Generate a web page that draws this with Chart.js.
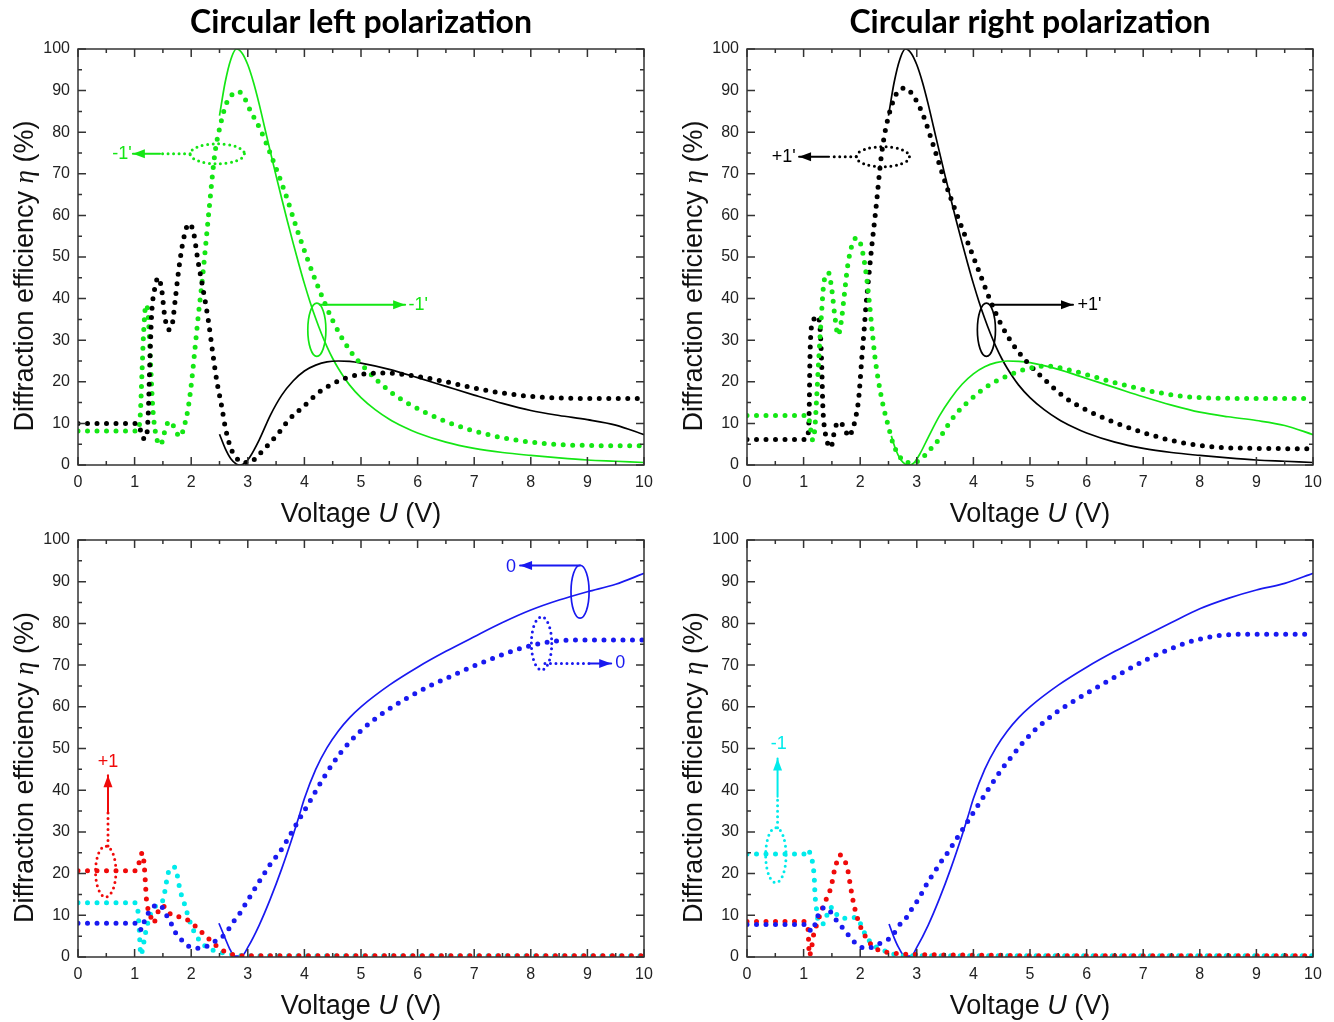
<!DOCTYPE html>
<html>
<head>
<meta charset="utf-8">
<script src="https://cdn.jsdelivr.net/npm/chart.js@4.4.1/dist/chart.umd.min.js"></script>
<style>
body { margin: 0; background: #fff; }
#wrap { position: relative; width: 1334px; height: 1022px; }
canvas { position: absolute; }
</style>
</head>
<body>
<div id="wrap">
  <canvas id="tl" width="667" height="540" style="left:0;top:0"></canvas>
  <canvas id="tr" width="667" height="540" style="left:667px;top:0"></canvas>
  <canvas id="bl" width="667" height="500" style="left:0;top:522px"></canvas>
  <canvas id="br" width="667" height="500" style="left:667px;top:522px"></canvas>
</div>
<script>
// ---- data, [voltage, efficiency %] ----
const tlBlackDot = [[0,10],[1.0,10],[1.08,9.5],[1.14,6.5],[1.2,6.3],[1.24,12],[1.27,25],[1.3,36],[1.35,42],[1.42,45],[1.48,42],[1.53,36],[1.6,32.5],[1.66,33.5],[1.72,40],[1.78,47],[1.86,54],[1.96,58],[2.04,56],[2.12,49],[2.2,43],[2.3,35],[2.38,27],[2.45,20.4],[2.54,14],[2.6,9.2],[2.69,4.4],[2.8,1.7],[2.92,0.6],[3.04,0.6],[3.16,2],[3.33,4.4],[3.54,7.6],[3.72,10.8],[3.98,14],[4.24,17.3],[4.5,19.5],[4.75,21],[5.0,21.8],[5.3,22.1],[5.6,22],[6,21.3],[6.5,20],[7,18.5],[7.5,17.3],[8,16.5],[8.5,16.1],[9,16],[10,16]];
const tlBlackSolid = [[2.5,7.4],[2.6,4],[2.7,1.5],[2.8,0.2],[2.86,0],[2.95,0.5],[3.04,2],[3.2,6],[3.4,12],[3.6,16.8],[3.8,20.2],[4.0,22.6],[4.2,24],[4.4,24.8],[4.6,25],[4.8,24.9],[5,24.5],[5.5,23],[6,21],[6.5,18.9],[7,16.8],[7.5,14.8],[8,13.1],[8.5,11.9],[9,10.9],[9.5,9.6],[10,7.3]];
const tlGreenSolid = [[2.5,84],[2.6,92],[2.7,97.5],[2.8,100],[2.9,99],[3.0,96.2],[3.1,92],[3.2,86.8],[3.3,81],[3.4,75.2],[3.5,69.5],[3.6,64],[3.7,58.6],[3.8,53.4],[3.9,48.4],[4.0,43.6],[4.1,39.2],[4.2,35.2],[4.3,31.6],[4.4,28.4],[4.5,25.6],[4.6,23.2],[4.8,19.2],[5.0,16.2],[5.25,13.3],[5.5,11],[5.75,9.2],[6,7.7],[6.5,5.5],[7,4],[7.5,3],[8,2.3],[8.5,1.7],[9,1.2],[9.5,0.9],[10,0.6]];
const tlGreenDot = [[0,8.2],[1.05,8.2],[1.1,12],[1.13,22],[1.16,32],[1.2,38.5],[1.24,36],[1.28,25],[1.32,14],[1.38,7],[1.46,4.8],[1.52,7.5],[1.58,10],[1.64,10.5],[1.7,9],[1.8,6.8],[1.89,10],[1.95,14],[2.01,20.4],[2.07,28.4],[2.13,36.5],[2.19,43.7],[2.25,52],[2.31,60.6],[2.42,75],[2.52,82],[2.61,86.5],[2.72,89],[2.83,89.8],[2.95,88],[3.05,85],[3.21,81],[3.44,73.4],[3.66,65.4],[3.89,55.8],[4.19,44.6],[4.49,35],[4.79,27.8],[5.09,23],[5.54,17.4],[6.14,12.6],[6.89,8.6],[7.65,6.2],[8.4,5],[9,4.7],[10,4.6]];

const trBlackDot = [[0,6.1],[1.03,6.1],[1.08,7.5],[1.1,14],[1.11,24],[1.13,32],[1.18,35],[1.24,35.8],[1.29,33],[1.32,24],[1.34,14],[1.38,8],[1.43,5],[1.48,4.2],[1.55,8.4],[1.61,10.4],[1.69,9.6],[1.75,8],[1.79,6.8],[1.85,8],[1.91,10.8],[1.97,15.6],[2.0,20.4],[2.03,26],[2.07,32.5],[2.1,38],[2.14,43.7],[2.2,52],[2.27,60.6],[2.38,75],[2.5,83.8],[2.68,90],[2.8,90.6],[2.95,88.5],[3.1,84.5],[3.3,76.5],[3.5,68],[3.7,60.5],[3.9,53.5],[4.1,46.5],[4.3,39.5],[4.5,33.5],[4.75,28],[5.0,24],[5.3,20],[5.6,16.4],[6.0,13.2],[6.5,10.2],[7.0,7.8],[7.6,5.6],[8.3,4.3],[9,4],[10,3.9]];
const trBlackSolid = [[2.5,84],[2.6,92],[2.7,97.5],[2.8,100],[2.9,99],[3.0,96.2],[3.1,92],[3.2,86.8],[3.3,81],[3.4,75.2],[3.5,69.5],[3.6,64],[3.7,58.6],[3.8,53.4],[3.9,48.4],[4.0,43.6],[4.1,39.2],[4.2,35.2],[4.3,31.6],[4.4,28.4],[4.5,25.6],[4.6,23.2],[4.8,19.2],[5.0,16.2],[5.25,13.3],[5.5,11],[5.75,9.2],[6,7.7],[6.5,5.5],[7,4],[7.5,3],[8,2.3],[8.5,1.7],[9,1.2],[9.5,0.9],[10,0.6]];
const trGreenSolid = [[2.55,7],[2.63,3.6],[2.72,1.2],[2.8,0.2],[2.88,0],[2.95,0.5],[3.06,2.8],[3.2,6.6],[3.4,11.8],[3.6,16],[3.8,19.4],[4.0,21.9],[4.2,23.6],[4.4,24.6],[4.6,25],[4.8,24.9],[5,24.6],[5.5,23],[6,20.8],[6.5,18.6],[7,16.4],[7.5,14.4],[8,12.7],[8.5,11.6],[9,10.7],[9.5,9.5],[10,7.3]];
const trGreenDot = [[0,11.9],[1.08,11.9],[1.12,9],[1.16,6],[1.2,9],[1.23,16],[1.27,26],[1.31,35],[1.36,44],[1.44,46.2],[1.5,42],[1.55,36],[1.61,31.2],[1.66,34],[1.72,41],[1.78,48],[1.87,53.5],[1.95,54.6],[2.03,52],[2.11,45.4],[2.17,38],[2.21,32.5],[2.26,26],[2.32,20.4],[2.41,14],[2.5,9.2],[2.58,5.2],[2.7,2],[2.82,0.6],[2.94,0.6],[3.06,1.2],[3.2,3.2],[3.38,6],[3.53,9.2],[3.7,12.4],[3.94,15.6],[4.23,18.8],[4.6,21.4],[5.0,23.3],[5.3,23.8],[5.7,22.8],[6.5,19.8],[7.27,17.4],[8,16.2],[9,16],[10,16]];

const blBlueSolid = [[2.49,8.1],[2.6,4.5],[2.69,1.7],[2.77,0.2],[2.89,0.2],[3.0,2.3],[3.2,7.6],[3.4,14],[3.6,21.2],[3.8,29.2],[3.9,33.5],[4.0,38],[4.2,45],[4.4,50.2],[4.6,54.2],[4.8,57.4],[5.0,60],[5.5,65.2],[6.0,69.5],[6.5,73.3],[7.0,76.8],[7.5,80.2],[8.0,83.2],[8.5,85.6],[9.0,87.6],[9.5,89.4],[10,92]];
const blBlueDot = [[0,8.1],[1.05,8.1],[1.12,6.5],[1.18,8.9],[1.24,10.5],[1.33,12.1],[1.45,12.5],[1.54,10.5],[1.63,8.5],[1.71,6.1],[1.83,4.1],[1.95,2.6],[2.1,2.1],[2.24,2.3],[2.36,3.3],[2.48,4.2],[2.6,5.5],[2.69,7.3],[2.77,8.9],[2.86,10.5],[2.95,12.5],[3.04,14.5],[3.13,16.5],[3.22,18.5],[3.3,20.2],[3.39,22.1],[3.48,23.7],[3.57,25.3],[3.65,27],[3.75,29.3],[3.9,32.8],[4.1,37.4],[4.34,43],[4.64,49],[5.0,54.3],[5.4,58.6],[5.8,62],[6.2,64.9],[6.6,67.4],[7.0,69.8],[7.4,72],[7.8,73.9],[8.1,75],[8.4,75.7],[8.8,76],[10,76]];
const blRedDot = [[0,20.7],[1.0,20.7],[1.06,21.5],[1.1,24],[1.14,25],[1.17,22],[1.19,18],[1.21,13.7],[1.27,10.5],[1.33,8.1],[1.42,11],[1.5,12.3],[1.57,11.2],[1.65,10.1],[1.83,9.5],[1.98,8.5],[2.14,6.5],[2.33,4.1],[2.54,1.7],[2.77,0.5],[3,0.3],[10,0.3]];
const blCyanDot = [[0,13],[1.0,13],[1.05,12],[1.08,7],[1.11,0.5],[1.15,2.5],[1.18,4.9],[1.24,8.5],[1.3,10.9],[1.4,12.5],[1.49,13.3],[1.54,16.1],[1.58,19.3],[1.63,21.3],[1.71,21.5],[1.77,18.5],[1.8,16.1],[1.86,13.7],[1.92,10.9],[2.01,7.3],[2.1,4.9],[2.19,3.3],[2.3,2.1],[2.48,1.3],[2.66,0.7],[3,0.3],[10,0.3]];

const brBlueSolid = [[2.51,7.9],[2.6,4.6],[2.67,2.5],[2.79,0.2],[2.9,0.2],[3.0,2.3],[3.2,7.6],[3.4,14],[3.6,21.2],[3.8,29.2],[3.9,33.5],[4.0,38],[4.2,45],[4.4,50.2],[4.6,54.2],[4.8,57.4],[5.0,60],[5.5,65.2],[6.0,69.5],[6.5,73.3],[7.0,76.8],[7.5,80.2],[8.0,83.5],[8.5,86],[9.0,88],[9.5,89.6],[10,92]];
const brBlueDot = [[0,7.8],[1.05,7.8],[1.14,6.1],[1.26,10.1],[1.37,11.9],[1.47,10.9],[1.55,9.3],[1.67,7.3],[1.79,5.3],[1.91,3.4],[2.03,2.3],[2.14,2.1],[2.29,2.9],[2.41,3.7],[2.56,4.9],[2.67,7.3],[2.82,9.5],[2.91,11.5],[3.02,13.7],[3.12,16.1],[3.2,18.1],[3.32,20.5],[3.41,22.5],[3.5,24.1],[3.7,28.3],[3.9,32.5],[4.1,36.8],[4.3,41],[4.5,45],[4.7,48.5],[4.9,51.8],[5.1,54.6],[5.5,59],[5.9,62.4],[6.3,65.6],[6.7,68.7],[7.1,71.6],[7.5,74],[7.9,75.9],[8.3,77],[8.7,77.4],[10,77.4]];
const brRedDot = [[0,8.5],[1.0,8.5],[1.05,8],[1.08,6.5],[1.09,3.3],[1.1,0.3],[1.14,2.1],[1.17,4.9],[1.23,7.7],[1.32,11.3],[1.38,13.3],[1.45,15.3],[1.5,17.7],[1.54,20.5],[1.58,22.5],[1.64,24.5],[1.72,23.3],[1.78,20.9],[1.82,17.7],[1.86,14.5],[1.91,11.3],[1.97,8.5],[2.03,6.5],[2.11,4.5],[2.2,2.9],[2.35,1.5],[2.54,1],[2.77,0.7],[3.5,0.5],[4.5,0.4],[5,0.3],[10,0.3]];
const brCyanDot = [[0,24.7],[1.0,24.7],[1.08,25.8],[1.13,24],[1.17,21.7],[1.19,18.5],[1.2,15.3],[1.23,11.3],[1.26,8.5],[1.32,7.9],[1.38,8.5],[1.44,11.3],[1.51,11.9],[1.58,10.3],[1.67,9.3],[1.76,9.3],[1.85,9.5],[1.94,9.3],[2.0,8.1],[2.05,6.5],[2.11,4.9],[2.2,3.3],[2.32,2.1],[2.43,1.5],[2.58,0.7],[2.75,0.3],[10,0.3]];

const xTicks = [0, 10, 1];      // min, max, step
const yTicks = [0, 100, 10];

const GREEN = 'rgb(20,230,20)', BLACK = '#000', BLUE = 'rgb(25,25,240)', RED = 'rgb(240,10,10)', CYAN = 'rgb(0,235,235)';

// annotation callouts, in data units
const tlNotes = {
  ellipses: [{x: 2.46, y: 74.8, rx: 0.48, ry: 2.4, c: GREEN, dot: true}, {x: 4.22, y: 32.5, rx: 0.16, ry: 6.4, c: GREEN}],
  arrows: [{from: [1.98, 74.8], mid: [1.45, 74.8], to: [0.97, 74.8], c: GREEN}, {from: [4.27, 38.5], to: [5.78, 38.5], c: GREEN}],
  labels: [{x: 0.95, y: 74.8, t: "-1'", c: GREEN, al: 'right'}, {x: 5.84, y: 38.5, t: "-1'", c: GREEN, al: 'left'}]
};
const trNotes = {
  ellipses: [{x: 2.4, y: 74.1, rx: 0.47, ry: 2.4, c: BLACK, dot: true}, {x: 4.23, y: 32.5, rx: 0.16, ry: 6.4, c: BLACK}],
  arrows: [{from: [1.93, 74.1], mid: [1.45, 74.1], to: [0.92, 74.1], c: BLACK}, {from: [4.3, 38.5], to: [5.76, 38.5], c: BLACK}],
  labels: [{x: 0.86, y: 74.1, t: "+1'", c: BLACK, al: 'right'}, {x: 5.84, y: 38.5, t: "+1'", c: BLACK, al: 'left'}]
};
const blNotes = {
  ellipses: [{x: 8.87, y: 87.6, rx: 0.16, ry: 6.35, c: BLUE}, {x: 8.19, y: 75.2, rx: 0.18, ry: 6.35, c: BLUE, dot: true},
             {x: 0.49, y: 20.5, rx: 0.18, ry: 6.1, c: RED, dot: true}],
  arrows: [{from: [8.87, 93.9], to: [7.81, 93.9], c: BLUE}, {from: [8.25, 70.4], mid: [9.05, 70.4], to: [9.42, 70.4], c: BLUE},
           {from: [0.53, 26.6], mid: [0.53, 34.8], to: [0.53, 43.6], c: RED}],
  labels: [{x: 7.74, y: 93.6, t: '0', c: BLUE, al: 'right'}, {x: 9.49, y: 70.4, t: '0', c: BLUE, al: 'left'},
           {x: 0.53, y: 46.8, t: '+1', c: RED, al: 'center'}]
};
const brNotes = {
  ellipses: [{x: 0.51, y: 24.4, rx: 0.18, ry: 6.6, c: CYAN, dot: true}],
  arrows: [{from: [0.54, 31], mid: [0.54, 38.4], to: [0.54, 47.6], c: CYAN}],
  labels: [{x: 0.56, y: 51, t: '-1', c: CYAN, al: 'center'}]
};

const SANS = '"Liberation Sans", Arial, sans-serif';

function dotted(d, c) {
  return { data: d.map(p => ({x: p[0], y: p[1]})), borderColor: c, borderWidth: 5, borderDash: [0, 9.5],
           borderCapStyle: 'round', pointRadius: 0, cubicInterpolationMode: 'monotone', fill: false };
}
function solid(d, c) {
  return { data: d.map(p => ({x: p[0], y: p[1]})), borderColor: c, borderWidth: 1.7,
           pointRadius: 0, cubicInterpolationMode: 'monotone', fill: false };
}

function richText(ctx, parts, cx, y, size) {
  const font = p => (p[1] ? 'italic ' : '') + size + 'px ' + (p[2] || SANS);
  let w = 0;
  parts.forEach(p => { ctx.font = font(p); w += ctx.measureText(p[0]).width; });
  let x = cx - w / 2;
  ctx.textAlign = 'left';
  ctx.textBaseline = 'alphabetic';
  parts.forEach(p => { ctx.font = font(p); ctx.fillText(p[0], x, y); x += ctx.measureText(p[0]).width; });
}

function arrowHead(ctx, x1, y1, x2, y2) {
  const ang = Math.atan2(y2 - y1, x2 - x1), L = 12, W = 4.5;
  ctx.beginPath();
  ctx.moveTo(x2, y2);
  ctx.lineTo(x2 - L * Math.cos(ang) + W * Math.sin(ang), y2 - L * Math.sin(ang) - W * Math.cos(ang));
  ctx.lineTo(x2 - L * Math.cos(ang) - W * Math.sin(ang), y2 - L * Math.sin(ang) + W * Math.cos(ang));
  ctx.closePath();
  ctx.fill();
}

const decor = {
  id: 'decor',
  afterDatasetsDraw(chart, args, o) {
    const ctx = chart.ctx, a = chart.chartArea, sx = chart.scales.x, sy = chart.scales.y;
    const X = v => sx.getPixelForValue(v), Y = v => sy.getPixelForValue(v);
    ctx.save();

    // callouts
    const n = o.notes || {};
    (n.ellipses || []).forEach(e => {
      ctx.strokeStyle = e.c;
      ctx.lineCap = 'round';
      if (e.dot) { ctx.lineWidth = 3; ctx.setLineDash([0, 5.5]); } else { ctx.lineWidth = 1.7; ctx.setLineDash([]); }
      ctx.beginPath();
      ctx.ellipse(X(e.x), Y(e.y), Math.abs(X(e.x + e.rx) - X(e.x)), Math.abs(Y(e.y + e.ry) - Y(e.y)), 0, 0, Math.PI * 2);
      ctx.stroke();
    });
    (n.arrows || []).forEach(r => {
      ctx.strokeStyle = r.c; ctx.fillStyle = r.c; ctx.lineCap = 'round';
      let start = r.from;
      if (r.mid) {
        ctx.lineWidth = 3; ctx.setLineDash([0, 5.5]);
        ctx.beginPath(); ctx.moveTo(X(r.from[0]), Y(r.from[1])); ctx.lineTo(X(r.mid[0]), Y(r.mid[1])); ctx.stroke();
        start = r.mid;
      }
      ctx.lineWidth = 2; ctx.setLineDash([]);
      ctx.beginPath(); ctx.moveTo(X(start[0]), Y(start[1])); ctx.lineTo(X(r.to[0]), Y(r.to[1])); ctx.stroke();
      arrowHead(ctx, X(start[0]), Y(start[1]), X(r.to[0]), Y(r.to[1]));
    });
    ctx.setLineDash([]);
    (n.labels || []).forEach(l => {
      ctx.fillStyle = l.c; ctx.font = '18px ' + SANS;
      ctx.textAlign = l.al; ctx.textBaseline = 'middle';
      ctx.fillText(l.t, X(l.x), Y(l.y));
    });

    // frame and inward ticks on all sides
    ctx.strokeStyle = '#333'; ctx.lineWidth = 1.5; ctx.lineCap = 'butt';
    ctx.strokeRect(a.left, a.top, a.right - a.left, a.bottom - a.top);
    ctx.beginPath();
    for (let v = xTicks[0]; v <= xTicks[1] + 1e-9; v += xTicks[2] / 2) {
      const p = X(v), l = Math.abs(v % xTicks[2]) < 1e-6 ? 8 : 4;
      ctx.moveTo(p, a.bottom); ctx.lineTo(p, a.bottom - l);
      ctx.moveTo(p, a.top); ctx.lineTo(p, a.top + l);
    }
    for (let v = yTicks[0]; v <= yTicks[1] + 1e-9; v += yTicks[2] / 2) {
      const p = Y(v), l = Math.abs(v % yTicks[2]) < 1e-6 ? 8 : 4;
      ctx.moveTo(a.left, p); ctx.lineTo(a.left + l, p);
      ctx.moveTo(a.right, p); ctx.lineTo(a.right - l, p);
    }
    ctx.stroke();

    // axis titles
    ctx.fillStyle = '#111';
    richText(ctx, [['Voltage '], ['U', true], [' (V)']], (a.left + a.right) / 2, a.bottom + 57, 27);
    ctx.save();
    ctx.translate(a.left - 45, (a.top + a.bottom) / 2 + 19);
    ctx.rotate(-Math.PI / 2);
    richText(ctx, [['Diffraction efficiency '], ['η', true, '"Liberation Serif", serif'], [' (%)']], 0, 0, 27);
    ctx.restore();

    // panel title
    if (o.title) {
      ctx.font = 'bold 30px Lato, "Open Sans", sans-serif';
      const s = 30 * 342 / ctx.measureText('Circular left polarization').width;
      ctx.font = 'bold ' + s.toFixed(1) + 'px Lato, "Open Sans", sans-serif';
      ctx.fillStyle = '#000'; ctx.textAlign = 'center'; ctx.textBaseline = 'alphabetic';
      ctx.fillText(o.title, (a.left + a.right) / 2, 33);
    }
    ctx.restore();
  }
};

function makeChart(id, datasets, box, title, notes) {
  const cv = document.getElementById(id);
  new Chart(cv, {
    type: 'line',
    data: { datasets: datasets },
    options: {
      responsive: false, animation: false, devicePixelRatio: 1,
      layout: { padding: { left: 0, right: cv.width - box.right, top: box.top, bottom: 0 } },
      plugins: { legend: { display: false }, tooltip: { enabled: false }, decor: { title: title, notes: notes } },
      scales: {
        x: { type: 'linear', min: xTicks[0], max: xTicks[1],
             ticks: { stepSize: xTicks[2], color: '#222', font: { family: SANS, size: 16 }, padding: 8, maxRotation: 0 },
             grid: { display: false, drawTicks: false }, border: { display: false },
             afterFit: s => { s.height = cv.height - box.bottom; } },
        y: { min: yTicks[0], max: yTicks[1],
             ticks: { stepSize: yTicks[2], color: '#222', font: { family: SANS, size: 16 }, padding: 8 },
             grid: { display: false, drawTicks: false }, border: { display: false },
             afterFit: s => { s.width = box.left; } }
      }
    },
    plugins: [decor]
  });
}

makeChart('tl', [dotted(tlBlackDot, BLACK), dotted(tlGreenDot, GREEN), solid(tlBlackSolid, BLACK), solid(tlGreenSolid, GREEN)],
          {left: 78, right: 644, top: 49, bottom: 465}, 'Circular left polarization', tlNotes);
makeChart('tr', [dotted(trGreenDot, GREEN), dotted(trBlackDot, BLACK), solid(trGreenSolid, GREEN), solid(trBlackSolid, BLACK)],
          {left: 80, right: 646, top: 49, bottom: 465}, 'Circular right polarization', trNotes);
makeChart('bl', [dotted(blBlueDot, BLUE), dotted(blRedDot, RED), dotted(blCyanDot, CYAN), solid(blBlueSolid, BLUE)],
          {left: 78, right: 644, top: 18, bottom: 435}, null, blNotes);
makeChart('br', [dotted(brBlueDot, BLUE), dotted(brRedDot, RED), dotted(brCyanDot, CYAN), solid(brBlueSolid, BLUE)],
          {left: 80, right: 646, top: 18, bottom: 435}, null, brNotes);
</script>
</body>
</html>
